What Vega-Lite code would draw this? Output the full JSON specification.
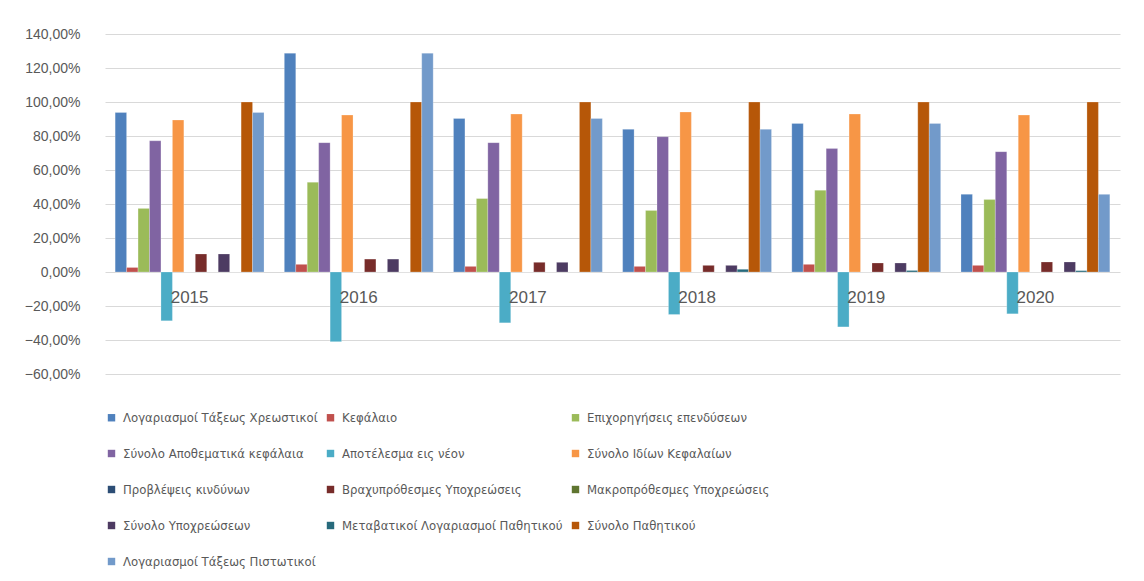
{
  "$schema": "https://vega.github.io/schema/vega-lite/v6.json",
  "width": 1015,
  "height": 340,
  "padding": {"left": 24, "top": 27, "right": 5, "bottom": 5},
  "autosize": {"type": "pad"},
  "config": {
    "locale": {"number": {"decimal": ",", "thousands": ".", "grouping": [3], "currency": ["", " €"]}},
    "view": {"stroke": null},
    "font": "Liberation Sans"
  },
  "data": {"values": [
    {"year": "2015", "series": "Λογαριασμοί Τάξεως Χρεωστικοί", "value": 0.938},
    {"year": "2015", "series": "Κεφάλαιο", "value": 0.027},
    {"year": "2015", "series": "Επιχορηγήσεις επενδύσεων", "value": 0.374},
    {"year": "2015", "series": "Σύνολο Αποθεματικά κεφάλαια", "value": 0.772},
    {"year": "2015", "series": "Αποτέλεσμα εις νέον", "value": -0.287},
    {"year": "2015", "series": "Σύνολο Ιδίων Κεφαλαίων", "value": 0.894},
    {"year": "2015", "series": "Προβλέψεις κινδύνων", "value": 0},
    {"year": "2015", "series": "Βραχυπρόθεσμες Υποχρεώσεις", "value": 0.106},
    {"year": "2015", "series": "Μακροπρόθεσμες Υποχρεώσεις", "value": 0},
    {"year": "2015", "series": "Σύνολο Υποχρεώσεων", "value": 0.106},
    {"year": "2015", "series": "Μεταβατικοί Λογαριασμοί Παθητικού", "value": 0},
    {"year": "2015", "series": "Σύνολο Παθητικού", "value": 1.0},
    {"year": "2015", "series": "Λογαριασμοί Τάξεως Πιστωτικοί", "value": 0.938},

    {"year": "2016", "series": "Λογαριασμοί Τάξεως Χρεωστικοί", "value": 1.287},
    {"year": "2016", "series": "Κεφάλαιο", "value": 0.045},
    {"year": "2016", "series": "Επιχορηγήσεις επενδύσεων", "value": 0.528},
    {"year": "2016", "series": "Σύνολο Αποθεματικά κεφάλαια", "value": 0.761},
    {"year": "2016", "series": "Αποτέλεσμα εις νέον", "value": -0.41},
    {"year": "2016", "series": "Σύνολο Ιδίων Κεφαλαίων", "value": 0.923},
    {"year": "2016", "series": "Προβλέψεις κινδύνων", "value": 0},
    {"year": "2016", "series": "Βραχυπρόθεσμες Υποχρεώσεις", "value": 0.076},
    {"year": "2016", "series": "Μακροπρόθεσμες Υποχρεώσεις", "value": 0},
    {"year": "2016", "series": "Σύνολο Υποχρεώσεων", "value": 0.076},
    {"year": "2016", "series": "Μεταβατικοί Λογαριασμοί Παθητικού", "value": 0},
    {"year": "2016", "series": "Σύνολο Παθητικού", "value": 1.0},
    {"year": "2016", "series": "Λογαριασμοί Τάξεως Πιστωτικοί", "value": 1.287},

    {"year": "2017", "series": "Λογαριασμοί Τάξεως Χρεωστικοί", "value": 0.903},
    {"year": "2017", "series": "Κεφάλαιο", "value": 0.033},
    {"year": "2017", "series": "Επιχορηγήσεις επενδύσεων", "value": 0.432},
    {"year": "2017", "series": "Σύνολο Αποθεματικά κεφάλαια", "value": 0.761},
    {"year": "2017", "series": "Αποτέλεσμα εις νέον", "value": -0.299},
    {"year": "2017", "series": "Σύνολο Ιδίων Κεφαλαίων", "value": 0.929},
    {"year": "2017", "series": "Προβλέψεις κινδύνων", "value": 0},
    {"year": "2017", "series": "Βραχυπρόθεσμες Υποχρεώσεις", "value": 0.057},
    {"year": "2017", "series": "Μακροπρόθεσμες Υποχρεώσεις", "value": 0},
    {"year": "2017", "series": "Σύνολο Υποχρεώσεων", "value": 0.057},
    {"year": "2017", "series": "Μεταβατικοί Λογαριασμοί Παθητικού", "value": 0},
    {"year": "2017", "series": "Σύνολο Παθητικού", "value": 1.0},
    {"year": "2017", "series": "Λογαριασμοί Τάξεως Πιστωτικοί", "value": 0.903},

    {"year": "2018", "series": "Λογαριασμοί Τάξεως Χρεωστικοί", "value": 0.839},
    {"year": "2018", "series": "Κεφάλαιο", "value": 0.033},
    {"year": "2018", "series": "Επιχορηγήσεις επενδύσεων", "value": 0.362},
    {"year": "2018", "series": "Σύνολο Αποθεματικά κεφάλαια", "value": 0.796},
    {"year": "2018", "series": "Αποτέλεσμα εις νέον", "value": -0.25},
    {"year": "2018", "series": "Σύνολο Ιδίων Κεφαλαίων", "value": 0.941},
    {"year": "2018", "series": "Προβλέψεις κινδύνων", "value": 0},
    {"year": "2018", "series": "Βραχυπρόθεσμες Υποχρεώσεις", "value": 0.039},
    {"year": "2018", "series": "Μακροπρόθεσμες Υποχρεώσεις", "value": 0},
    {"year": "2018", "series": "Σύνολο Υποχρεώσεων", "value": 0.039},
    {"year": "2018", "series": "Μεταβατικοί Λογαριασμοί Παθητικού", "value": 0.016},
    {"year": "2018", "series": "Σύνολο Παθητικού", "value": 1.0},
    {"year": "2018", "series": "Λογαριασμοί Τάξεως Πιστωτικοί", "value": 0.839},

    {"year": "2019", "series": "Λογαριασμοί Τάξεως Χρεωστικοί", "value": 0.874},
    {"year": "2019", "series": "Κεφάλαιο", "value": 0.045},
    {"year": "2019", "series": "Επιχορηγήσεις επενδύσεων", "value": 0.481},
    {"year": "2019", "series": "Σύνολο Αποθεματικά κεφάλαια", "value": 0.726},
    {"year": "2019", "series": "Αποτέλεσμα εις νέον", "value": -0.323},
    {"year": "2019", "series": "Σύνολο Ιδίων Κεφαλαίων", "value": 0.929},
    {"year": "2019", "series": "Προβλέψεις κινδύνων", "value": 0},
    {"year": "2019", "series": "Βραχυπρόθεσμες Υποχρεώσεις", "value": 0.053},
    {"year": "2019", "series": "Μακροπρόθεσμες Υποχρεώσεις", "value": 0},
    {"year": "2019", "series": "Σύνολο Υποχρεώσεων", "value": 0.053},
    {"year": "2019", "series": "Μεταβατικοί Λογαριασμοί Παθητικού", "value": 0.009},
    {"year": "2019", "series": "Σύνολο Παθητικού", "value": 1.0},
    {"year": "2019", "series": "Λογαριασμοί Τάξεως Πιστωτικοί", "value": 0.874},

    {"year": "2020", "series": "Λογαριασμοί Τάξεως Χρεωστικοί", "value": 0.457},
    {"year": "2020", "series": "Κεφάλαιο", "value": 0.039},
    {"year": "2020", "series": "Επιχορηγήσεις επενδύσεων", "value": 0.426},
    {"year": "2020", "series": "Σύνολο Αποθεματικά κεφάλαια", "value": 0.708},
    {"year": "2020", "series": "Αποτέλεσμα εις νέον", "value": -0.246},
    {"year": "2020", "series": "Σύνολο Ιδίων Κεφαλαίων", "value": 0.923},
    {"year": "2020", "series": "Προβλέψεις κινδύνων", "value": 0},
    {"year": "2020", "series": "Βραχυπρόθεσμες Υποχρεώσεις", "value": 0.059},
    {"year": "2020", "series": "Μακροπρόθεσμες Υποχρεώσεις", "value": 0},
    {"year": "2020", "series": "Σύνολο Υποχρεώσεων", "value": 0.059},
    {"year": "2020", "series": "Μεταβατικοί Λογαριασμοί Παθητικού", "value": 0.008},
    {"year": "2020", "series": "Σύνολο Παθητικού", "value": 1.0},
    {"year": "2020", "series": "Λογαριασμοί Τάξεως Πιστωτικοί", "value": 0.457}
  ]},
  "mark": {"type": "bar", "stroke": "#ffffff", "strokeWidth": 0.4, "strokeOpacity": 0.6},
  "encoding": {
    "x": {
      "field": "year", "type": "nominal",
      "scale": {"paddingInner": 0.12, "paddingOuter": 0.06},
      "axis": {
        "title": null, "labelAngle": 0, "offset": -102, "ticks": false,
        "domain": false, "labelPadding": 17, "labelFontSize": 17,
        "labelColor": "#595959", "grid": false, "zindex": 1
      }
    },
    "xOffset": {
      "field": "series", "type": "nominal",
      "sort": ["Λογαριασμοί Τάξεως Χρεωστικοί", "Κεφάλαιο", "Επιχορηγήσεις επενδύσεων", "Σύνολο Αποθεματικά κεφάλαια", "Αποτέλεσμα εις νέον", "Σύνολο Ιδίων Κεφαλαίων", "Προβλέψεις κινδύνων", "Βραχυπρόθεσμες Υποχρεώσεις", "Μακροπρόθεσμες Υποχρεώσεις", "Σύνολο Υποχρεώσεων", "Μεταβατικοί Λογαριασμοί Παθητικού", "Σύνολο Παθητικού", "Λογαριασμοί Τάξεως Πιστωτικοί"],
      "scale": {"paddingInner": 0, "paddingOuter": 0}
    },
    "y": {
      "field": "value", "type": "quantitative",
      "scale": {"domain": [-0.6, 1.4], "nice": false},
      "axis": {
        "title": null, "format": ".2%",
        "values": [-0.6, -0.4, -0.2, 0, 0.2, 0.4, 0.6, 0.8, 1.0, 1.2, 1.4],
        "domain": false, "ticks": false, "labelPadding": 25,
        "labelFontSize": 14, "labelColor": "#595959",
        "gridColor": "#D9D9D9", "gridWidth": 1
      }
    },
    "color": {
      "field": "series", "type": "nominal",
      "scale": {
        "domain": ["Λογαριασμοί Τάξεως Χρεωστικοί", "Κεφάλαιο", "Επιχορηγήσεις επενδύσεων", "Σύνολο Αποθεματικά κεφάλαια", "Αποτέλεσμα εις νέον", "Σύνολο Ιδίων Κεφαλαίων", "Προβλέψεις κινδύνων", "Βραχυπρόθεσμες Υποχρεώσεις", "Μακροπρόθεσμες Υποχρεώσεις", "Σύνολο Υποχρεώσεων", "Μεταβατικοί Λογαριασμοί Παθητικού", "Σύνολο Παθητικού", "Λογαριασμοί Τάξεως Πιστωτικοί"],
        "range": ["#4F81BD", "#C0504D", "#9BBB59", "#8064A2", "#4BACC6", "#F79646", "#2C4D75", "#772C2A", "#5F7530", "#4D3B62", "#276A7C", "#B65708", "#729ACA"]
      },
      "legend": {
        "title": null, "orient": "bottom", "direction": "horizontal", "columns": 3,
        "offset": 37, "symbolType": "square", "symbolSize": 55, "symbolStrokeWidth": 0,
        "labelFont": "DejaVu Sans Condensed, Liberation Sans", "labelFontSize": 13, "labelColor": "#595959",
        "rowPadding": 22, "columnPadding": 6, "labelOffset": 5, "labelLimit": 300
      }
    }
  }
}
